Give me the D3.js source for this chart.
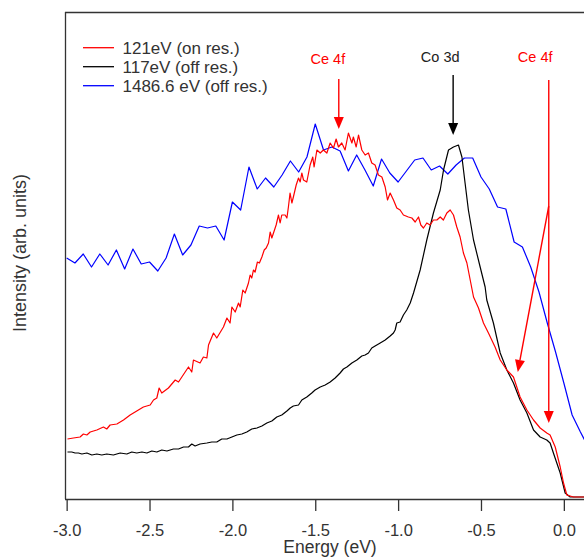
<!DOCTYPE html>
<html>
<head>
<meta charset="utf-8">
<script src="https://cdn.jsdelivr.net/npm/d3@7"></script>
<style>
body{margin:0;background:#fff;}
#chartDiv{width:584px;height:557px;}
text{font-family:"Liberation Sans",Arial,Helvetica,sans-serif;}
</style>
</head>
<body>
<div id="chartDiv"></div>
<script>
// series 121eV (on res.) - red
let redE = [-2.995,-2.959,-2.919,-2.899,-2.878,-2.858,-2.818,-2.778,-2.758,-2.738,-2.697,-2.657,-2.617,-2.577,-2.537,-2.496,-2.476,-2.456,-2.442,-2.426,-2.386,-2.345,-2.325,-2.305,-2.265,-2.245,-2.235,-2.195,-2.175,-2.154,-2.144,-2.114,-2.094,-2.054,-2.033,-2.014,-2.003,-1.983,-1.963,-1.953,-1.937,-1.923,-1.903,-1.893,-1.883,-1.873,-1.863,-1.849,-1.837,-1.822,-1.808,-1.796,-1.782,-1.772,-1.762,-1.736,-1.722,-1.712,-1.702,-1.682,-1.671,-1.662,-1.652,-1.641,-1.632,-1.615,-1.601,-1.591,-1.581,-1.571,-1.551,-1.531,-1.515,-1.507,-1.490,-1.470,-1.451,-1.430,-1.410,-1.390,-1.374,-1.360,-1.340,-1.320,-1.300,-1.279,-1.270,-1.253,-1.239,-1.219,-1.199,-1.179,-1.159,-1.139,-1.119,-1.098,-1.078,-1.064,-1.048,-1.028,-1.008,-0.988,-0.968,-0.938,-0.917,-0.897,-0.877,-0.863,-0.847,-0.827,-0.807,-0.787,-0.766,-0.746,-0.727,-0.706,-0.686,-0.666,-0.646,-0.626,-0.606,-0.585,-0.565,-0.545,-0.515,-0.485,-0.455,-0.415,-0.384,-0.344,-0.304,-0.264,-0.223,-0.183,-0.143,-0.103,-0.083,-0.052,-0.022,-0.002,0.018,0.058,0.122];
let redI = [60,61,62,65,64,67,69,72,70,74,75,79,84,88,92,94,99,101,111,106,111,119,117,122,132,127,139,136,142,141,154,166,161,172,181,176,192,187,196,192,209,206,216,224,221,229,227,237,236,242,249,251,256,267,261,274,284,276,284,284,281,292,306,296,302,314,321,317,326,319,317,334,342,332,349,346,349,346,356,351,360,352,356,349,366,356,362,352,364,349,344,346,336,334,324,322,312,299,306,299,291,289,284,282,281,277,282,274,271,276,274,279,279,282,279,286,289,284,272,262,246,236,219,202,191,176,166,152,139,129,122,102,89,79,71,66,64,52,32,16,4,2,2];

// series 117eV (off res.) - black
let blackE = [-2.995,-2.969,-2.949,-2.929,-2.908,-2.878,-2.848,-2.818,-2.788,-2.758,-2.718,-2.677,-2.637,-2.607,-2.577,-2.546,-2.516,-2.486,-2.456,-2.426,-2.395,-2.356,-2.325,-2.295,-2.265,-2.245,-2.225,-2.195,-2.154,-2.124,-2.094,-2.064,-2.033,-2.003,-1.973,-1.943,-1.913,-1.883,-1.852,-1.822,-1.792,-1.762,-1.732,-1.702,-1.671,-1.651,-1.632,-1.601,-1.581,-1.551,-1.521,-1.501,-1.470,-1.440,-1.410,-1.380,-1.350,-1.330,-1.309,-1.279,-1.249,-1.219,-1.199,-1.179,-1.159,-1.139,-1.108,-1.078,-1.048,-1.028,-1.018,-1.008,-0.988,-0.968,-0.948,-0.927,-0.907,-0.867,-0.827,-0.787,-0.746,-0.726,-0.696,-0.666,-0.636,-0.615,-0.596,-0.576,-0.545,-0.505,-0.475,-0.465,-0.425,-0.384,-0.344,-0.304,-0.264,-0.223,-0.183,-0.143,-0.103,-0.083,-0.063,-0.022,0.008,0.038,0.122];
let blackI = [47,47,46,46,45,46,44,45,44,45,44,46,45,47,46,47,46,48,47,49,48,50,50,52,52,55,53,55,56,57,57,60,60,62,64,65,67,70,71,73,76,78,82,84,88,91,93,94,99,102,106,109,112,114,117,121,126,130,132,136,139,143,144,146,151,153,156,159,163,166,169,176,177,184,189,196,206,229,259,286,309,329,349,352,354,342,316,289,259,232,212,199,176,146,129,116,99,86,69,62,59,56,46,26,6,2,2];

// series 1486.6 eV (off res.) - blue
let blueE = [-3.00,-2.95,-2.90,-2.85,-2.80,-2.75,-2.70,-2.65,-2.60,-2.55,-2.50,-2.45,-2.40,-2.35,-2.30,-2.25,-2.20,-2.15,-2.10,-2.05,-2.00,-1.95,-1.90,-1.85,-1.80,-1.75,-1.70,-1.65,-1.60,-1.55,-1.50,-1.45,-1.40,-1.35,-1.30,-1.25,-1.20,-1.15,-1.10,-1.05,-1.00,-0.95,-0.90,-0.85,-0.80,-0.75,-0.70,-0.65,-0.60,-0.55,-0.50,-0.45,-0.40,-0.35,-0.30,-0.25,-0.20,-0.15,-0.10,-0.05,0.00,0.05,0.10,0.15];
let blueI = [241,236,245,232,245,234,249,230,250,235,237,228,241,265,244,254,273,271,273,259,297,289,332,310,321,312,324,338,327,342,375,349,352,348,328,344,329,313,340,326,317,328,339,341,329,333,325,334,341,341,322,310,292,290,257,252,232,207,176,147,116,84,67,51];

let seriesNames = ["121eV (on res.)", "117eV (off res.)", "1486.6 eV (off res.)"];
let seriesColors = ["#ff0000", "#000000", "#0000ff"];
let xTicks = [-3.0, -2.5, -2.0, -1.5, -1.0, -0.5, 0.0];

// annotations: label, color, label pos, arrow start, arrow tip (energy, intensity)
let annoLabels = ["Ce 4f", "Co 3d", "Ce 4f"];
let annoLabelE = [-1.424, -0.746, -0.173];
let annoLabelI = [435, 437, 437];
let annoColors = ["#ff0000", "#222222", "#ff0000"];
let arrowFromE = [-1.358, -0.668, -0.091, -0.091];
let arrowFromI = [420, 424, 419, 293];
let arrowToE = [-1.358, -0.668, -0.091, -0.278];
let arrowToI = [370, 364, 76, 127];
let arrowColors = ["#ff0000", "#000000", "#ff0000", "#ff0000"];

createGraph();

function createGraph(){
let width = 584, height = 557;
let left = 65, top = 12, bottom = 499;

let body = d3.select("#chartDiv").append("svg").attr("width", width).attr("height", height);

let scaleX = d3.scaleLinear().domain([-3.01, 0.2]).range([left, left + 3.21*165.73]);
let scaleY = d3.scaleLinear().domain([0, 487]).range([bottom, top]);

body.append("clipPath").attr("id","plotClip").append("rect")
  .attr("x", left).attr("y", top).attr("width", width - left).attr("height", bottom - top);

let series = [
  d3.zip(redE, redI),
  d3.zip(blackE, blackI),
  d3.zip(blueE, blueI)
];

let lineGen = d3.line().x(d => scaleX(d[0])).y(d => scaleY(d[1]));

let plot = body.append("g").attr("clip-path","url(#plotClip)");
// draw blue first, then black, red on top
[2,1,0].forEach(i => {
  plot.append("path").datum(series[i])
    .attr("d", lineGen)
    .attr("fill","none")
    .attr("stroke", seriesColors[i])
    .attr("stroke-width", 1.2)
    .attr("stroke-linejoin","round");
});

// frame
body.append("line").attr("x1", left).attr("x2", width).attr("y1", top+0.5).attr("y2", top+0.5).style("stroke","#333").style("stroke-width",1.3);
body.append("line").attr("x1", left+0.5).attr("x2", left+0.5).attr("y1", top).attr("y2", bottom).style("stroke","#333").style("stroke-width",1.3);

let axisXgen = d3.axisBottom(scaleX).tickValues(xTicks).tickFormat(d => d.toFixed(1)).tickSize(12).tickPadding(13);
let xAxis = body.append("g").attr("id","x-axis").attr("transform","translate(0,"+bottom+")").call(axisXgen);
xAxis.select(".domain").remove();
xAxis.selectAll(".tick line").style("stroke","#333").style("stroke-width",1.3);
xAxis.selectAll(".tick text").style("font-size","16.5px").style("fill","#333").style("font-family",'"Liberation Sans",Arial,sans-serif');
body.append("line").attr("x1", left).attr("x2", width).attr("y1", bottom+0.5).attr("y2", bottom+0.5).style("stroke","#333").style("stroke-width",1.3);

// axis titles
body.append("text").text("Energy (eV)").attr("x", 330).attr("y", 553)
  .attr("text-anchor","middle").style("font-size","17.5px").style("fill","#333");
body.append("text").text("Intensity (arb. units)")
  .attr("transform","translate(26,253) rotate(-90)")
  .attr("text-anchor","middle").style("font-size","18px").style("fill","#333");

// legend
let legend = body.append("g").attr("id","legend").attr("transform","translate(83,47.7)");
seriesNames.forEach((n, i) => {
  legend.append("line").attr("x1",0).attr("x2",31).attr("y1", i*19).attr("y2", i*19)
    .style("stroke", seriesColors[i]).style("stroke-width",1.3);
  legend.append("text").text(n).attr("x", 39.5).attr("y", i*19 + 6)
    .style("font-size","17px").style("fill","#333");
});

// annotations
annoLabels.forEach((t, i) => {
  body.append("text").text(t).attr("x", scaleX(annoLabelE[i])).attr("y", scaleY(annoLabelI[i]))
    .attr("text-anchor","middle").style("font-size","14.5px").style("fill", annoColors[i]);
});

arrowColors.forEach((c, i) => {
  let x1 = scaleX(arrowFromE[i]), y1 = scaleY(arrowFromI[i]);
  let x2 = scaleX(arrowToE[i]), y2 = scaleY(arrowToI[i]);
  let ang = Math.atan2(y2 - y1, x2 - x1);
  let headL = 12, headW = 5;
  let bx = x2 - headL*Math.cos(ang), by = y2 - headL*Math.sin(ang);
  body.append("line").attr("x1", x1).attr("y1", y1).attr("x2", bx).attr("y2", by)
    .style("stroke", c).style("stroke-width", 1.4);
  let px = -Math.sin(ang)*headW, py = Math.cos(ang)*headW;
  body.append("path")
    .attr("d", "M"+x2+","+y2+"L"+(bx+px)+","+(by+py)+"L"+(bx-px)+","+(by-py)+"Z")
    .attr("fill", c);
});
}
</script>
</body>
</html>
